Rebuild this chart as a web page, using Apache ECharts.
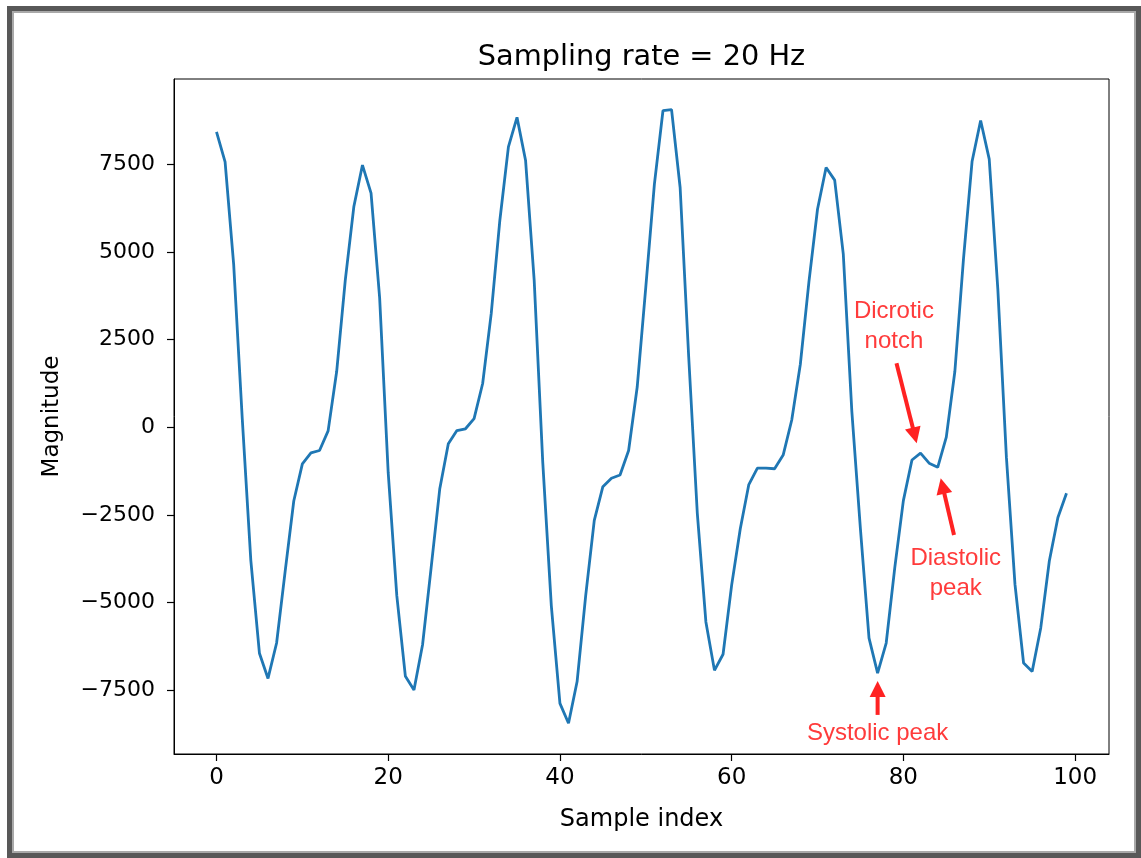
<!DOCTYPE html>
<html>
<head>
<meta charset="utf-8">
<script src="https://cdn.jsdelivr.net/npm/echarts@6/dist/echarts.min.js"></script>
<style>
html, body { margin: 0; padding: 0; background: #fff; }
#wrap { position: relative; width: 1141px; height: 858px; overflow: hidden; }
#main { position: absolute; left: 0; top: 0; width: 1141px; height: 858px; }
#frame { position: absolute; left: 7px; top: 6px; width: 1134px; height: 852px; box-sizing: border-box;
         border: 5px solid #585858; box-shadow: inset 0 0 0 2px #a9a9a9; pointer-events: none; }
</style>
</head>
<body>
<div id="wrap"><div id="main"></div><div id="frame"></div></div>
<script>
// PPG signal, one value per sample (index = position in the array)
var magnitude = [
    8430, 7570, 4650, 250, -3800, -6440, -7160, -6150, -4100, -2100,
    -1040, -730, -660, -100, 1600, 4200, 6300, 7480, 6680, 3700,
    -1300, -4800, -7100, -7490, -6200, -4000, -1760, -470, -90, -40,
    250, 1250, 3250, 5900, 8000, 8840, 7610, 4200, -1000, -5100,
    -7870, -8440, -7250, -4800, -2650, -1690, -1450, -1360, -660, 1150,
    4000, 6930, 9030, 9060, 6840, 2000, -2450, -5550, -6930, -6470,
    -4500, -2900, -1630, -1160, -1160, -1180, -790, 210, 1800, 4150,
    6220, 7410, 7050, 4950, 450, -2900, -6010, -7010, -6150, -4000,
    -2090, -930, -735, -1020, -1140, -280, 1600, 4800, 7580, 8750,
    7650, 3950, -850, -4480, -6720, -6960, -5720, -3810, -2570, -1880
];
var xTicks = [0, 20, 40, 60, 80, 100];
var yTicks = [-7500, -5000, -2500, 0, 2500, 5000, 7500];

// annotations (data coordinates)
var annotTexts = ['Dicrotic\nnotch', 'Diastolic\npeak', 'Systolic peak'];
var annotTextAt = [[78.9, 2890], [86.1, -4150], [77, -8720]];
var annotFrom = [[79.2, 1830], [85.9, -3070], [77, -8200]];
var annotTo = [[81.55, -450], [84.35, -1450], [77, -7230]];

var seriesData = magnitude.map(function (v, i) { return [i, v]; });

var dmin = Math.min.apply(null, magnitude), dmax = Math.max.apply(null, magnitude);
var ypad = (dmax - dmin) * 0.05;
var xpad = (magnitude.length - 1) * 0.05;

var gridLeft = 174, gridRight = 32;
var tickFont = 'DejaVu Sans';
var myChart = echarts.init(document.getElementById('main'));

var option = {
    backgroundColor: '#fff',
    animation: false,
    title: {
        text: 'Sampling rate = 20 Hz',
        left: gridLeft + (1141 - gridLeft - gridRight) / 2 - 5,
        textAlign: 'center',
        top: 38,
        textStyle: { fontFamily: tickFont, fontSize: 28.8, fontWeight: 'normal', color: '#000' }
    },
    grid: {
        left: gridLeft, top: 79, right: gridRight, bottom: 104,
        show: true, borderColor: '#000', borderWidth: 1, backgroundColor: '#fff'
    },
    xAxis: {
        type: 'value',
        min: -xpad, max: magnitude.length - 1 + xpad,
        name: 'Sample index', nameLocation: 'middle', nameGap: 54,
        nameTextStyle: { fontFamily: tickFont, fontSize: 24, color: '#000' },
        axisLine: { show: true, onZero: false, lineStyle: { color: '#000', width: 1 } },
        axisTick: { show: true, length: 7, lineStyle: { color: '#000', width: 1.2 }, customValues: xTicks },
        axisLabel: { customValues: xTicks, margin: 13, fontFamily: tickFont, fontSize: 23, color: '#000' },
        splitLine: { show: false }
    },
    yAxis: {
        type: 'value',
        min: dmin - ypad, max: dmax + ypad,
        name: 'Magnitude', nameLocation: 'middle', nameGap: 110, nameRotate: 90,
        nameTextStyle: { fontFamily: tickFont, fontSize: 23, color: '#000' },
        axisLine: { show: true, onZero: false, lineStyle: { color: '#000', width: 1 } },
        axisTick: { show: true, length: 7, lineStyle: { color: '#000', width: 1.2 }, customValues: yTicks },
        axisLabel: {
            customValues: yTicks, margin: 19, fontFamily: tickFont, fontSize: 22, color: '#000',
            formatter: function (v) { return String(v).replace('-', '\u2212'); }
        },
        splitLine: { show: false }
    },
    series: [{
        type: 'line',
        data: seriesData,
        showSymbol: false,
        lineStyle: { color: '#1f77b4', width: 2.8 },
        itemStyle: { color: '#1f77b4' }
    }]
};
myChart.setOption(option);

// annotations: red text + arrow, placed through the chart's own coordinate system
function drawAnnotations() {
    var els = [];
    var headLen = 16, headHalf = 8;
    for (var k = 0; k < annotTexts.length; k++) {
        var t = myChart.convertToPixel({ gridIndex: 0 }, annotTextAt[k]);
        var a = myChart.convertToPixel({ gridIndex: 0 }, annotFrom[k]);
        var b = myChart.convertToPixel({ gridIndex: 0 }, annotTo[k]);
        var dx = b[0] - a[0], dy = b[1] - a[1];
        var len = Math.sqrt(dx * dx + dy * dy);
        var ux = dx / len, uy = dy / len;
        var bx = b[0] - ux * headLen, by = b[1] - uy * headLen;
        els.push({
            type: 'text', z: 10,
            style: {
                text: annotTexts[k], x: t[0], y: t[1], align: 'center', verticalAlign: 'middle',
                fontFamily: 'Liberation Sans', fontSize: 24, lineHeight: 30, fill: '#ff3b3b'
            }
        });
        els.push({
            type: 'line', z: 10,
            shape: { x1: a[0], y1: a[1], x2: bx + ux, y2: by + uy },
            style: { stroke: '#ff2222', lineWidth: 4 }
        });
        els.push({
            type: 'polygon', z: 10,
            shape: { points: [[b[0], b[1]], [bx - uy * headHalf, by + ux * headHalf], [bx + uy * headHalf, by - ux * headHalf]] },
            style: { fill: '#ff2222' }
        });
    }
    myChart.setOption({ graphic: els });
}
drawAnnotations();

window.onresize = function () {
    myChart.resize();
    drawAnnotations();
};
</script>
</body>
</html>
